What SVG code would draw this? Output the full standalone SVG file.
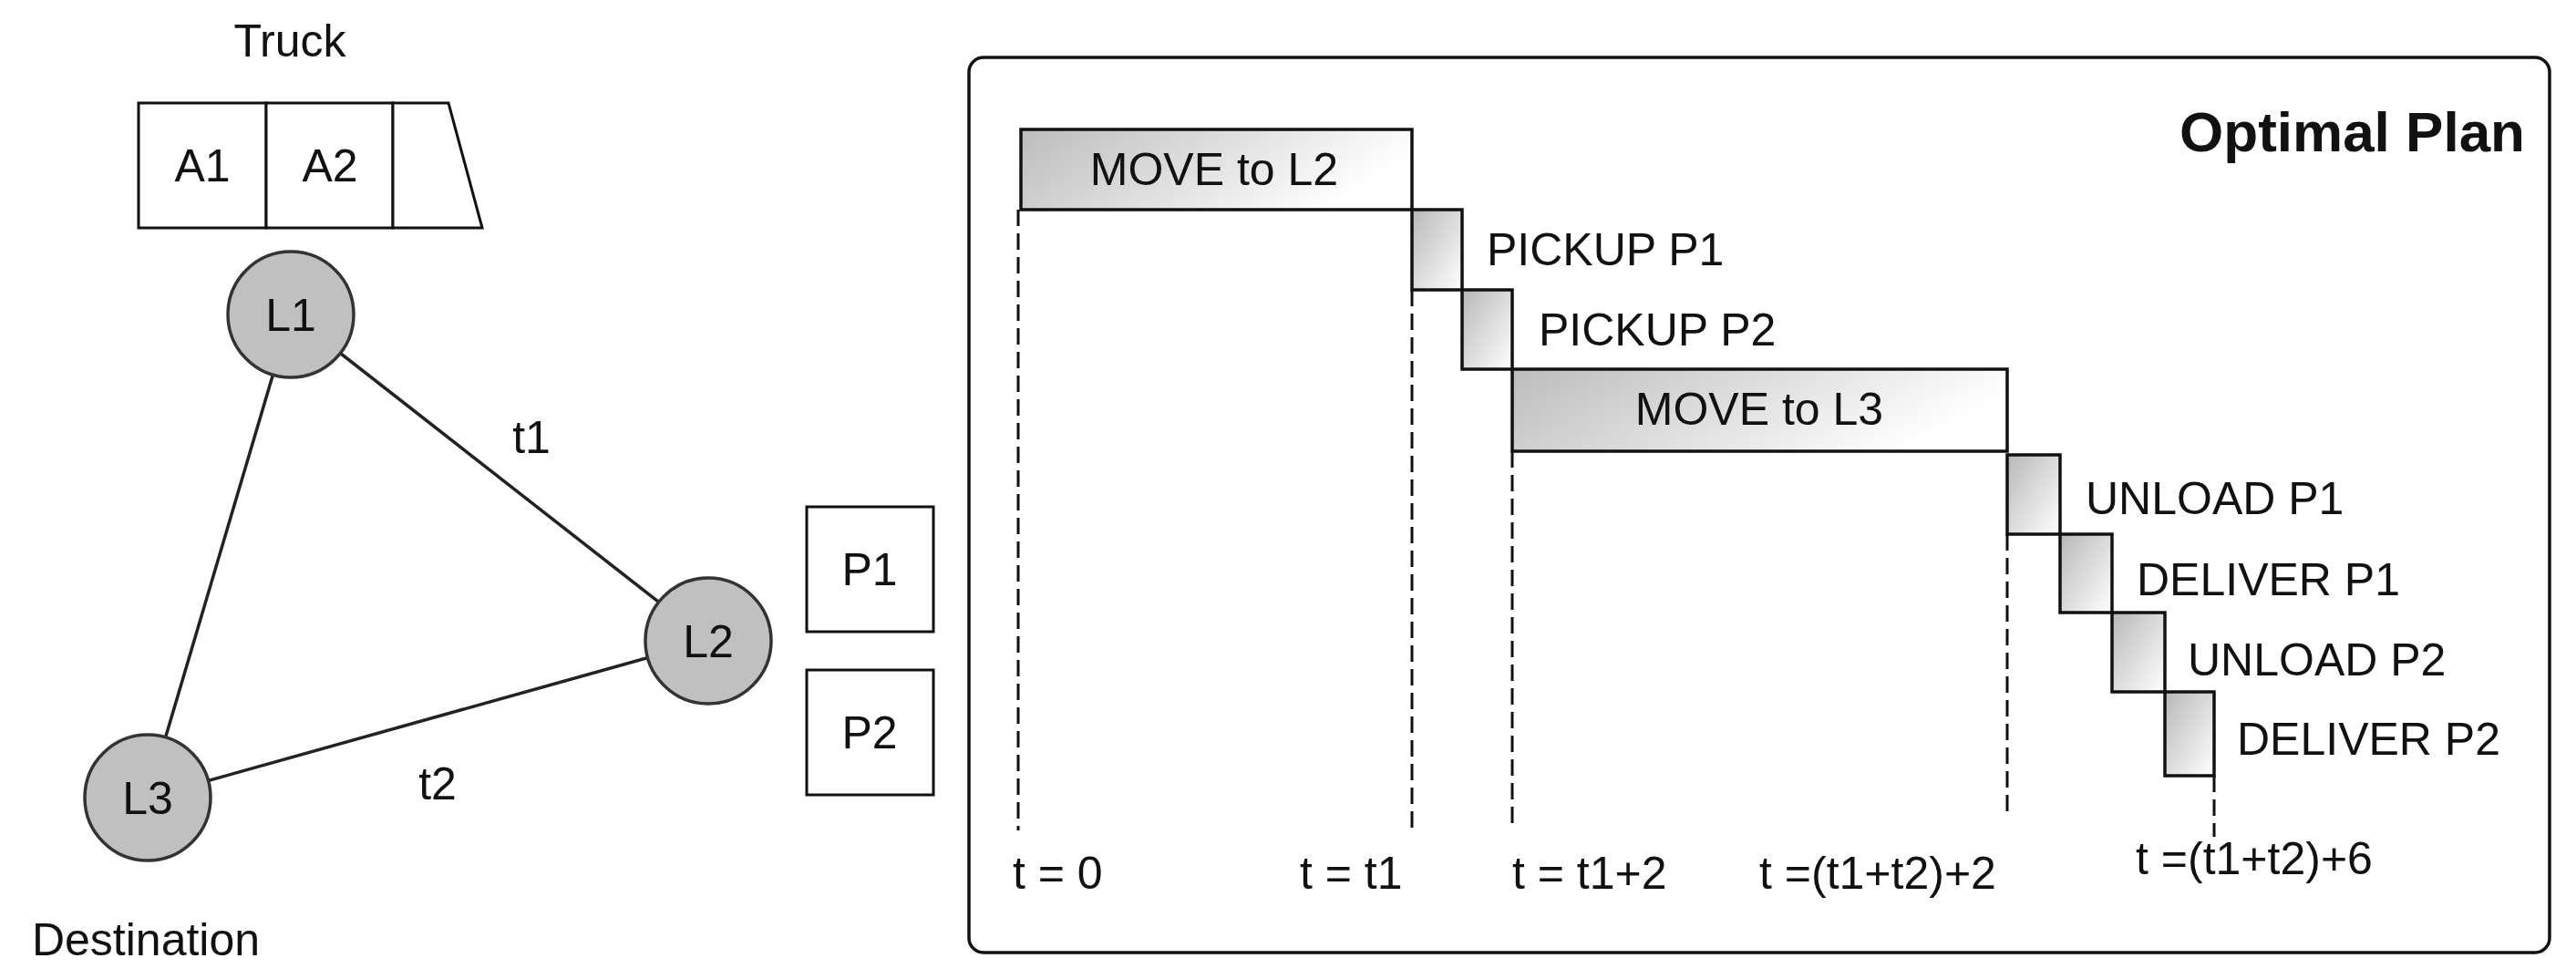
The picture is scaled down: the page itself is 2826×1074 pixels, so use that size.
<svg xmlns="http://www.w3.org/2000/svg" width="2826" height="1074" viewBox="0 0 2826 1074">
<defs>
<linearGradient id="gh" x1="0" y1="0" x2="1" y2="0.3"><stop offset="0" stop-color="#bcbcbc"/><stop offset="1" stop-color="#ffffff"/></linearGradient>
<linearGradient id="gd" x1="0" y1="0" x2="1" y2="1"><stop offset="0" stop-color="#b8b8b8"/><stop offset="1" stop-color="#ffffff"/></linearGradient>
</defs>
<style>
text{font-family:"Liberation Sans",Arial,sans-serif;font-size:50px;fill:#111}
.box{fill:#fff;stroke:#111;stroke-width:3}
.node{fill:#c0c0c0;stroke:#333;stroke-width:3.5}
.edge{stroke:#222;stroke-width:3.5;fill:none}
.bar{fill:url(#gh);stroke:#111;stroke-width:3.5}
.step{fill:url(#gd);stroke:#111;stroke-width:3.5}
.dash{stroke:#111;stroke-width:3;stroke-dasharray:18 8;fill:none}
.c{text-anchor:middle}
</style>
<rect width="2826" height="1074" fill="#fff"/>
<g id="connectors">
<line class="edge" x1="319" y1="345" x2="777" y2="703"/>
<line class="edge" x1="319" y1="345" x2="162" y2="875"/>
<line class="edge" x1="777" y1="703" x2="162" y2="875"/>
<text x="583" y="497" class="c">t1</text>
<text x="480" y="877" class="c">t2</text>
</g>
<g id="truck">
<text x="318" y="62" class="c">Truck</text>
<rect class="box" x="152" y="113" width="140" height="137"/>
<rect class="box" x="292" y="113" width="139" height="137"/>
<path class="box" d="M431 113 H492 L529 250 H431 Z"/>
<text x="222" y="199" class="c">A1</text>
<text x="362" y="199" class="c">A2</text>
</g>
<g id="L1"><circle class="node" cx="319" cy="345" r="69"/><text x="319" y="363" class="c">L1</text></g>
<g id="L2"><circle class="node" cx="777" cy="703" r="69"/><text x="777" y="721" class="c">L2</text></g>
<g id="L3"><circle class="node" cx="162" cy="875" r="69"/><text x="162" y="893" class="c">L3</text></g>
<text x="160" y="1048" class="c">Destination</text>
<g id="P1"><rect class="box" x="885" y="556" width="139" height="137"/><text x="954" y="642" class="c">P1</text></g>
<g id="P2"><rect class="box" x="885" y="735" width="139" height="137"/><text x="954" y="821" class="c">P2</text></g>
<g id="plan">
<rect x="1063" y="63" width="1734" height="982" rx="16" fill="#fff" stroke="#111" stroke-width="3.5"/>
<text x="2770" y="166" text-anchor="end" style="font-weight:bold;font-size:62px">Optimal Plan</text>
<path class="dash" d="M1117 230 V911 M1549 318 V911 M1659 495 V911 M2202 586 V892 M2429 851 V918"/>
<rect class="bar" x="1120" y="142" width="429" height="88"/>
<text x="1332" y="203" class="c">MOVE to L2</text>
<rect class="step" x="1549" y="230" width="55" height="88"/>
<text x="1631" y="291">PICKUP P1</text>
<rect class="step" x="1604" y="318" width="55" height="87"/>
<text x="1688" y="379">PICKUP P2</text>
<rect class="bar" x="1659" y="405" width="543" height="90"/>
<text x="1930" y="466" class="c">MOVE to L3</text>
<rect class="step" x="2202" y="499" width="58" height="87"/>
<text x="2288" y="564">UNLOAD P1</text>
<rect class="step" x="2260" y="586" width="57" height="86"/>
<text x="2344" y="653">DELIVER P1</text>
<rect class="step" x="2317" y="672" width="58" height="87"/>
<text x="2400" y="741">UNLOAD P2</text>
<rect class="step" x="2375" y="759" width="54" height="92"/>
<text x="2454" y="828">DELIVER P2</text>
<text x="1111" y="975">t = 0</text>
<text x="1426" y="975">t = t1</text>
<text x="1659" y="975">t = t1+2</text>
<text x="1930" y="975">t =(t1+t2)+2</text>
<text x="2343" y="959">t =(t1+t2)+6</text>
</g>
</svg>
